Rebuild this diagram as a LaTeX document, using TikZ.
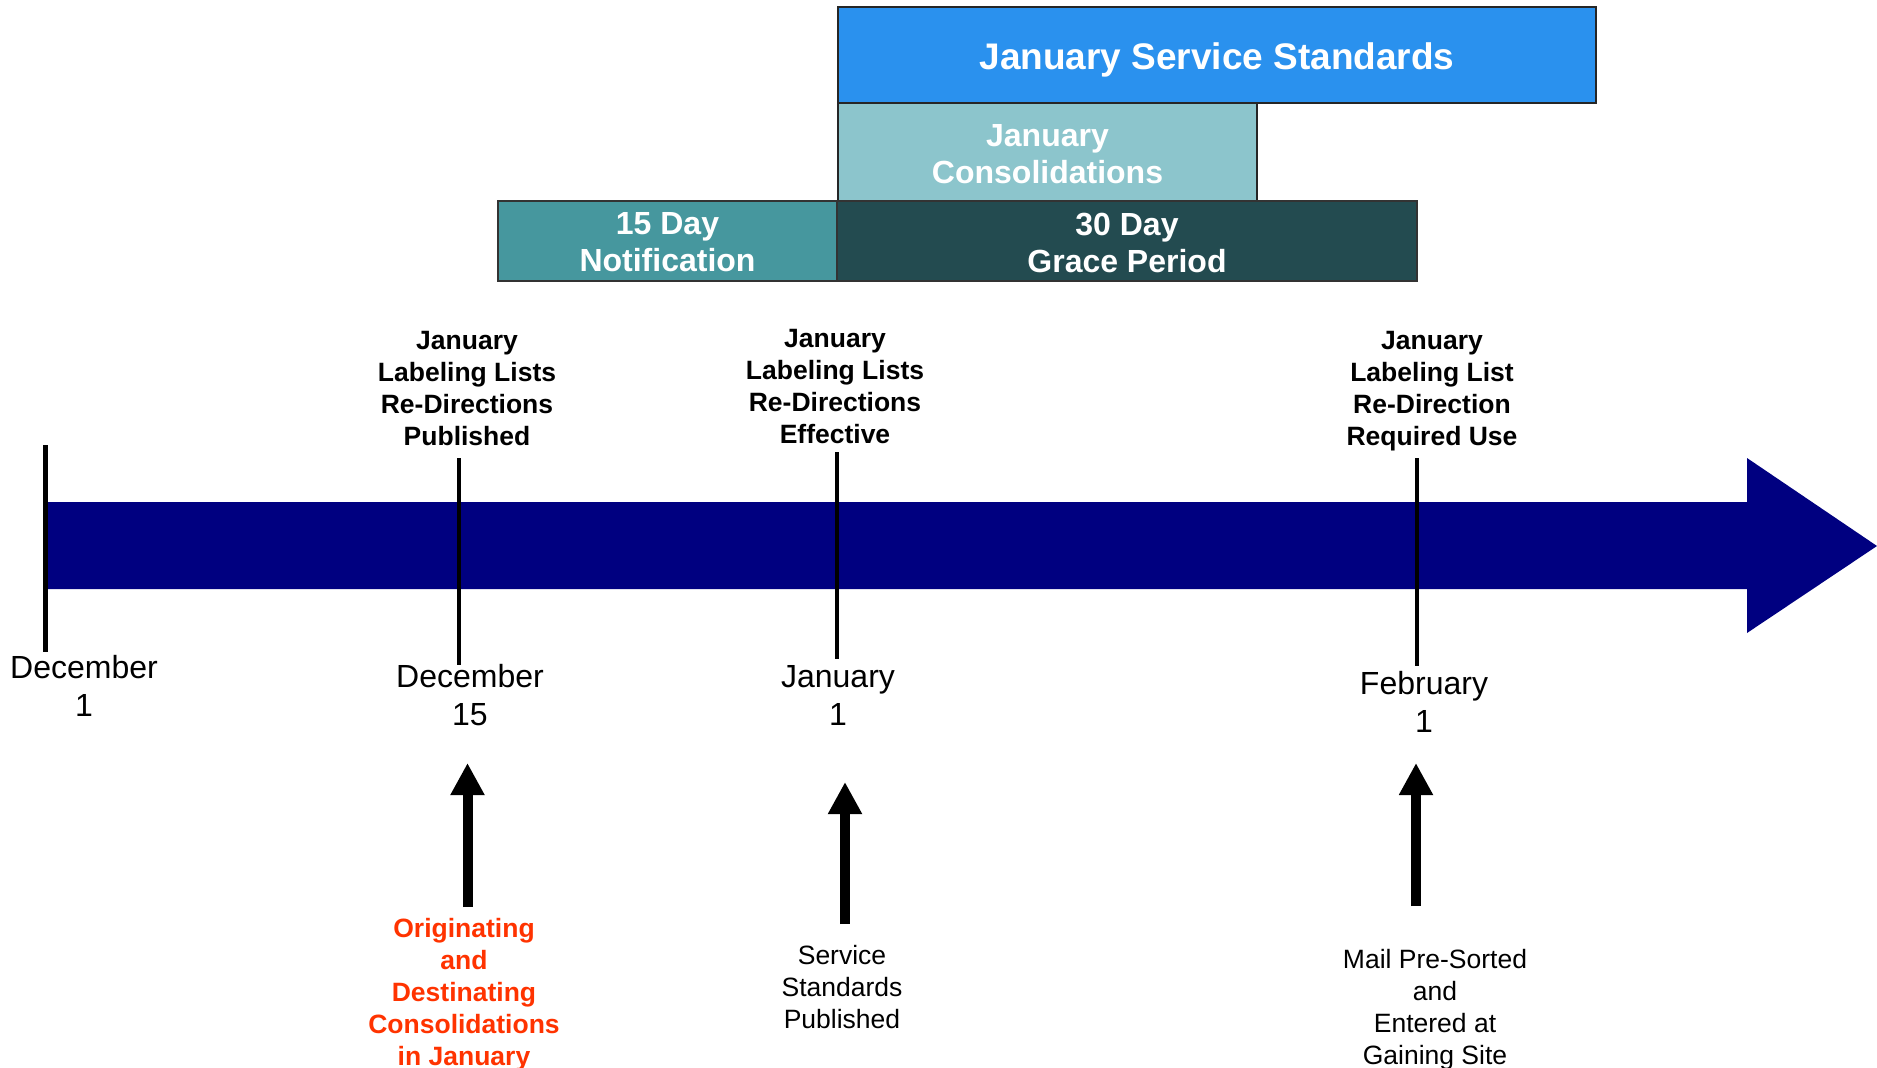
\documentclass[tikz,border=0pt]{standalone}
\usepackage{fontspec}
\setmainfont{Liberation Sans}
\usetikzlibrary{arrows.meta}
\definecolor{jssblue}{RGB}{42,145,238}
\definecolor{consteal}{RGB}{140,197,204}
\definecolor{notifteal}{RGB}{70,151,158}
\definecolor{gracedark}{RGB}{35,75,80}
\definecolor{bandnavy}{RGB}{0,0,128}
\definecolor{consred}{RGB}{255,51,0}
\begin{document}
\begin{tikzpicture}[x=1pt,y=-1pt,
  periodbox/.style={draw=black!85, line width=1.5pt, inner sep=0pt},
  boxtext/.style={text=white, align=center, inner sep=0pt,
    font=\bfseries\fontsize{32}{37}\selectfont},
  toplabel/.style={align=center, font=\bfseries\fontsize{26.5}{32}\selectfont},
  datelabel/.style={align=center, font=\fontsize{32}{38}\selectfont},
  botlabel/.style={align=center, font=\fontsize{26.5}{32}\selectfont},
  tickline/.style={line width=4.5pt},
  uparrow/.style={line width=10pt, -{Triangle[length=32pt,width=32pt]}}]
\useasboundingbox (0,0) rectangle (1877,1068);

% period boxes
\node[periodbox, fill=jssblue, minimum width=758pt, minimum height=96pt] (jss) at (1217,55) {};
\node[periodbox, fill=consteal, minimum width=419pt, minimum height=98pt] (cons) at (1047.5,152) {};
\node[periodbox, fill=notifteal, draw=black!80, minimum width=339pt, minimum height=80pt] (notif) at (667.5,241) {};
\node[periodbox, fill=gracedark, draw=black!80, minimum width=580pt, minimum height=80pt] (grace) at (1127,241) {};
\node[boxtext, font=\bfseries\fontsize{37}{42}\selectfont] (jsst) at ([yshift=-5pt]jss.center) {January Service Standards};
\node[boxtext] (const) at ([yshift=-2.5pt]cons.center) {January\\Consolidations};
\node[boxtext] (notift) at ([yshift=-1.5pt]notif.center) {15 Day\\Notification};
\node[boxtext] (gracet) at ([yshift=-1.5pt]grace.center) {30 Day\\Grace Period};

% timeline band
\fill[bandnavy] (45,502) -- (1747,502) -- (1747,458) -- (1877,546) -- (1747,633) -- (1747,589) -- (45,589) -- cycle;

% ticks
\coordinate (t1a) at (45.5,445);  \coordinate (t1b) at (45.5,652);
\coordinate (t2a) at (459,458);   \coordinate (t2b) at (459,665);
\coordinate (t3a) at (837,452);   \coordinate (t3b) at (837,659);
\coordinate (t4a) at (1417,458);  \coordinate (t4b) at (1417,666);
\draw[tickline] (t1a) -- (t1b);
\draw[tickline] (t2a) -- (t2b);
\draw[tickline] (t3a) -- (t3b);
\draw[tickline] (t4a) -- (t4b);

% top labels
\node[toplabel] (lbl1) at (467,389) {January\\Labeling Lists\\Re-Directions\\Published};
\node[toplabel] (lbl2) at (835,387) {January\\Labeling Lists\\Re-Directions\\Effective};
\node[toplabel] (lbl3) at (1432,391) {January\\Labeling List\\Re-Direction\\Required Use};

% dates
\node[datelabel] (d1) at (84,686) {December\\1};
\node[datelabel] (d2) at (470,695) {December\\15};
\node[datelabel] (d3) at (838,695) {January\\1};
\node[datelabel] (d4) at (1424,702) {February\\1};

% bottom labels
\node[botlabel, text=consred, font=\bfseries\fontsize{26.5}{32}\selectfont] (b1) at (464,995) {Originating\\and\\Destinating\\Consolidations\\in January};
\node[botlabel] (b2) at (842,987) {Service\\Standards\\Published};
\node[botlabel] (b3) at (1435,1010) {Mail Pre-Sorted\\and\\Entered at\\Gaining Site};

% up arrows
\coordinate (a1s) at (467.5,907);  \coordinate (a1e) at (467.5,763);
\coordinate (a2s) at (845,924);    \coordinate (a2e) at (845,782);
\coordinate (a3s) at (1416,906);   \coordinate (a3e) at (1416,763);
\draw[uparrow] (a1s) -- (a1e);
\draw[uparrow] (a2s) -- (a2e);
\draw[uparrow] (a3s) -- (a3e);
\end{tikzpicture}
\end{document}
